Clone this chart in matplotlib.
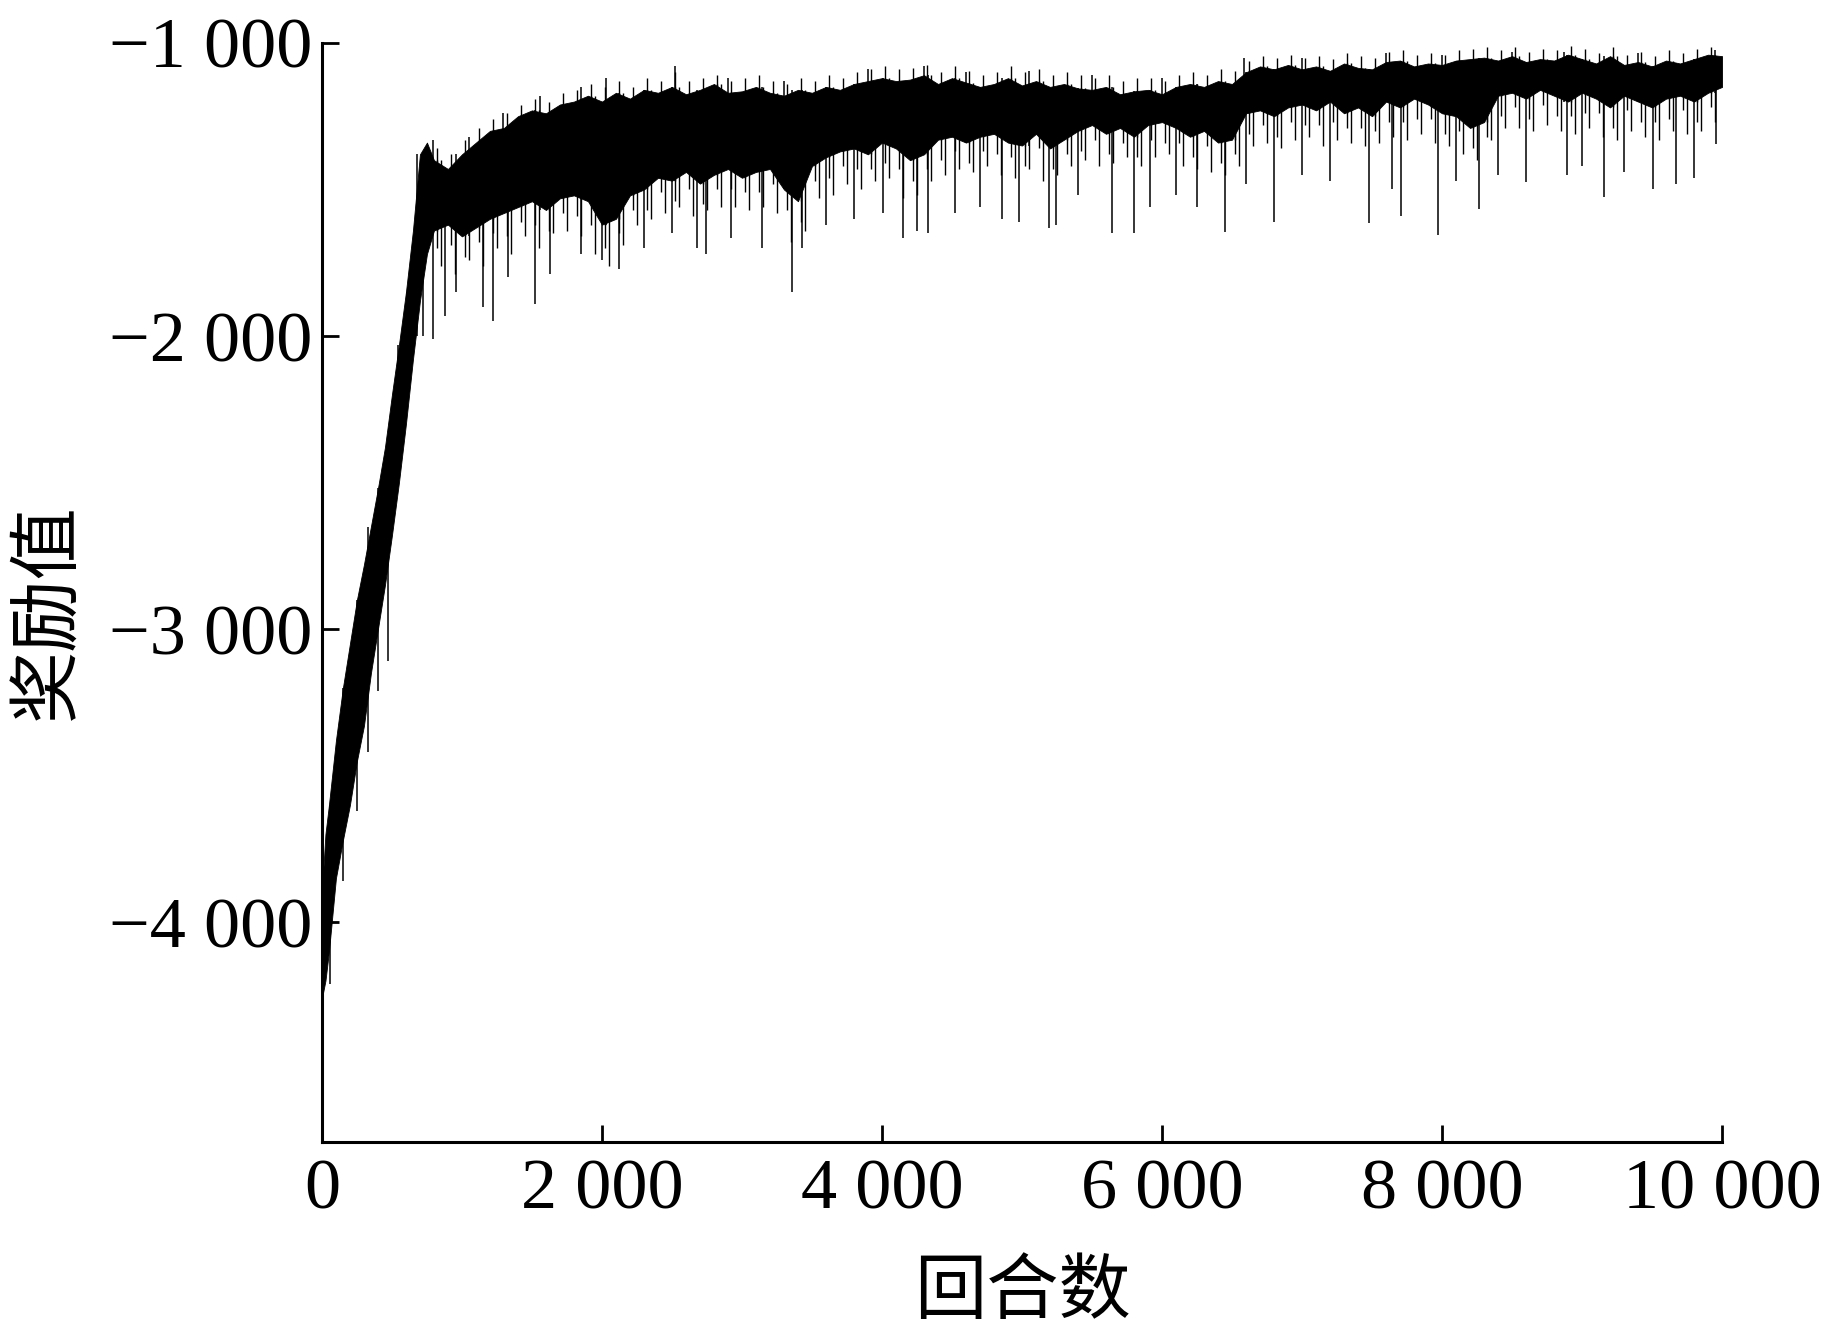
import numpy as np
import matplotlib
matplotlib.use("Agg")
import matplotlib.pyplot as plt
from matplotlib.ticker import FixedLocator, FixedFormatter

plt.rcParams['font.family'] = ['Liberation Serif', 'Noto Sans CJK SC', 'DejaVu Sans']

# ---- data (envelope of the reward curve) ----
# steep rise: episodes and top / bottom edges of the dense band
ep_rise = [0, 25, 50, 100, 150, 200, 250, 300, 350, 400, 450, 500, 550, 600, 650, 700, 750]
top_rise = [-3900, -3700, -3600, -3380, -3200, -3050, -2900, -2780, -2650, -2520,
            -2380, -2200, -2030, -1850, -1640, -1380, -1340]
bot_rise = [-4260, -4200, -4100, -3850, -3720, -3600, -3450, -3330, -3150, -3000,
            -2850, -2680, -2500, -2300, -2080, -1880, -1720]

# plateau: every 100 episodes from 800 to 10000
ep_main = list(range(800, 10001, 100))
top_main = [-1400, -1430, -1380, -1340, -1300, -1290, -1250, -1230, -1240, -1210,
            -1200, -1180, -1200, -1170, -1190, -1160, -1170, -1150, -1175, -1160,
            -1140, -1170, -1165, -1150, -1170, -1180, -1160, -1170, -1150, -1160,
            -1140, -1130, -1120, -1130, -1125, -1110, -1140, -1120, -1135, -1150,
            -1140, -1120, -1145, -1130, -1150, -1140, -1155, -1160, -1150, -1175,
            -1165, -1160, -1175, -1150, -1140, -1150, -1130, -1140, -1100, -1080,
            -1090, -1075, -1090, -1080, -1095, -1070, -1085, -1090, -1065, -1060,
            -1080, -1070, -1075, -1060, -1055, -1050, -1060, -1045, -1065, -1055,
            -1060, -1040, -1055, -1070, -1045, -1075, -1065, -1080, -1060, -1070,
            -1055, -1040, -1045]
bot_main = [-1640, -1620, -1660, -1630, -1600, -1580, -1560, -1540, -1570, -1530,
            -1520, -1540, -1620, -1600, -1520, -1500, -1460, -1470, -1440, -1480,
            -1450, -1430, -1460, -1440, -1430, -1500, -1540, -1420, -1390, -1370,
            -1360, -1380, -1340, -1360, -1400, -1380, -1330, -1320, -1340, -1320,
            -1310, -1340, -1350, -1310, -1360, -1330, -1300, -1280, -1310, -1290,
            -1320, -1280, -1270, -1290, -1320, -1300, -1340, -1330, -1240, -1230,
            -1250, -1220, -1210, -1230, -1200, -1240, -1220, -1250, -1200, -1220,
            -1190, -1210, -1240, -1250, -1290, -1270, -1180, -1170, -1190, -1160,
            -1180, -1200, -1170, -1190, -1220, -1180, -1200, -1220, -1190, -1180,
            -1200, -1170, -1150]

# short fringe spikes between the plateau samples (850, 950, ..., 9950)
ep_mid = list(range(850, 10000, 100))
down_mid = [-1760, -1790, -1740, -1760, -1700, -1720, -1660, -1700, -1650, -1640,
            -1660, -1720, -1760, -1690, -1620, -1600, -1580, -1560, -1590, -1570,
            -1560, -1560, -1570, -1560, -1580, -1680, -1640, -1530, -1520, -1480,
            -1500, -1470, -1460, -1530, -1520, -1470, -1450, -1430, -1440, -1420,
            -1450, -1460, -1430, -1470, -1450, -1420, -1400, -1420, -1410, -1390,
            -1420, -1390, -1380, -1420, -1430, -1440, -1450, -1420, -1350, -1340,
            -1360, -1330, -1320, -1350, -1330, -1340, -1350, -1340, -1320, -1330,
            -1310, -1340, -1350, -1380, -1400, -1330, -1290, -1290, -1300, -1280,
            -1300, -1310, -1290, -1320, -1330, -1300, -1320, -1330, -1300, -1310,
            -1300, -1270]
up_mid = [-1360, -1380, -1330, -1290, -1260, -1240, -1210, -1190, -1200, -1170,
          -1160, -1140, -1150, -1130, -1150, -1120, -1130, -1100, -1130, -1120,
          -1110, -1130, -1120, -1110, -1130, -1140, -1120, -1130, -1110, -1120,
          -1100, -1090, -1080, -1090, -1085, -1075, -1100, -1080, -1095, -1110,
          -1100, -1080, -1100, -1090, -1110, -1100, -1110, -1120, -1110, -1130,
          -1120, -1120, -1130, -1110, -1100, -1110, -1090, -1095, -1060, -1045,
          -1050, -1040, -1050, -1045, -1055, -1035, -1045, -1050, -1030, -1025,
          -1040, -1035, -1040, -1025, -1020, -1015, -1025, -1015, -1030, -1020,
          -1025, -1010, -1020, -1035, -1015, -1040, -1030, -1045, -1025, -1035,
          -1020, -1015]

# second row of fringe spikes (820, 920, ..., 9920)
ep_mid2 = list(range(820, 10000, 100))
down_mid2 = [-1700, -1690, -1730, -1680, -1650, -1660, -1610, -1620, -1640, -1580,
             -1590, -1620, -1700, -1650, -1570, -1570, -1510, -1540, -1500, -1550,
             -1500, -1500, -1510, -1510, -1480, -1570, -1610, -1470, -1460, -1420,
             -1430, -1430, -1410, -1430, -1470, -1430, -1400, -1370, -1410, -1370,
             -1380, -1390, -1420, -1360, -1430, -1380, -1370, -1330, -1380, -1340,
             -1390, -1330, -1340, -1340, -1390, -1350, -1410, -1380, -1310, -1280,
             -1320, -1270, -1280, -1280, -1270, -1290, -1290, -1300, -1270, -1270,
             -1260, -1260, -1310, -1300, -1360, -1320, -1250, -1220, -1260, -1210,
             -1250, -1250, -1240, -1240, -1290, -1230, -1270, -1270, -1260, -1230,
             -1270, -1220]

# long downward spikes: episode and lowest value
spike_ep = [60, 150, 250, 330, 400, 470, 540, 610, 680, 720, 790, 880, 960, 1150, 1220,
            1330, 1520, 1630, 1850, 2000, 2120, 2300, 2500, 2680, 2740, 2920, 3140,
            3355, 3430, 3600, 3800, 4010, 4150, 4250, 4330, 4520, 4700, 4855, 4980,
            5190, 5243, 5400, 5640, 5797, 5914, 6100, 6250, 6452, 6600, 6802, 7000,
            7200, 7476, 7640, 7705, 7970, 8100, 8265, 8400, 8600, 8890, 9000, 9160,
            9300, 9510, 9670, 9800, 9955]
spike_low = [-4210, -3860, -3620, -3420, -3210, -3110, -2420, -2150, -2000, -2000, -2010,
             -1930, -1850, -1900, -1950, -1800, -1890, -1790, -1720, -1740, -1770, -1700,
             -1650, -1700, -1720, -1665, -1700, -1850, -1700, -1620, -1600, -1580, -1665,
             -1640, -1650, -1580, -1560, -1600, -1610, -1630, -1620, -1520, -1650, -1650,
             -1560, -1520, -1560, -1645, -1480, -1610, -1450, -1470, -1615, -1500, -1590,
             -1656, -1470, -1565, -1450, -1475, -1450, -1420, -1525, -1440, -1500, -1480,
             -1460, -1345]

# long upward spikes: episode and highest value
up_ep = [790, 1050, 1290, 1560, 1850, 2030, 2520, 2900, 3300, 3900, 4300, 4600,
         5050, 5500, 6000, 6585, 7000, 7600, 8000, 8500, 8870, 9400, 9950]
up_high = [-1330, -1320, -1240, -1180, -1150, -1120, -1080, -1120, -1130, -1090, -1080, -1100,
           -1095, -1110, -1120, -1050, -1050, -1035, -1040, -1030, -1030, -1035, -1025]

xticks = [0, 2000, 4000, 6000, 8000, 10000]
yticks = [-4000, -3000, -2000, -1000]
xlabels = ['0', '2 000', '4 000', '6 000', '8 000', '10 000']
ylabels = ['\u22124 000', '\u22123 000', '\u22122 000', '\u22121 000']

fig = plt.figure(figsize=(18.25, 13.3), dpi=100)
ax = fig.add_axes([0.1764, 0.1414, 0.7672, 0.8263])

episodes = ep_rise + ep_main
top = np.array(top_rise + top_main)
bot = np.array(bot_rise + bot_main)
ax.fill_between(episodes, bot, top, color='black', lw=0.6, zorder=3)

# spikes go from the band out to their tips
ep_arr = np.array(episodes)
def nearest(eps):
    return [int(np.argmin(np.abs(ep_arr - e))) for e in eps]

ax.vlines(spike_ep, spike_low, top[nearest(spike_ep)], color='black', lw=1.1, zorder=2)
ax.vlines(up_ep, bot[nearest(up_ep)], up_high, color='black', lw=1.1, zorder=2)
ax.vlines(ep_mid, down_mid, top[nearest(ep_mid)], color='black', lw=1.0, zorder=2)
ax.vlines(ep_mid2, down_mid2, top[nearest(ep_mid2)], color='black', lw=1.0, zorder=2)
ep_up = np.array(ep_mid) - 30
ax.vlines(ep_up, bot[nearest(ep_up)], up_mid, color='black', lw=1.0, zorder=2)

ax.set_xlim(0, 10000)
ax.set_ylim(-4750, -1000)
ax.xaxis.set_major_locator(FixedLocator(xticks))
ax.xaxis.set_major_formatter(FixedFormatter(xlabels))
ax.yaxis.set_major_locator(FixedLocator(yticks))
ax.yaxis.set_major_formatter(FixedFormatter(ylabels))

for s in ['top', 'right']:
    ax.spines[s].set_visible(False)
for s in ['left', 'bottom']:
    ax.spines[s].set_linewidth(2.2)
ax.tick_params(direction='in', length=12, width=2, labelsize=52)
ax.tick_params(axis='y', pad=7)
ax.tick_params(axis='x', pad=12)

ax.set_xlabel('回合数', fontsize=52, family=['Noto Sans CJK SC'])
ax.set_ylabel('奖励值', fontsize=52, family=['Noto Sans CJK SC'])
ax.xaxis.set_label_coords(0.5, -0.137)
ax.xaxis.label.set_va('center')
ax.yaxis.set_label_coords(-0.196, 0.483)
ax.yaxis.label.set_va('center')

fig.savefig('out.png', dpi=100)
